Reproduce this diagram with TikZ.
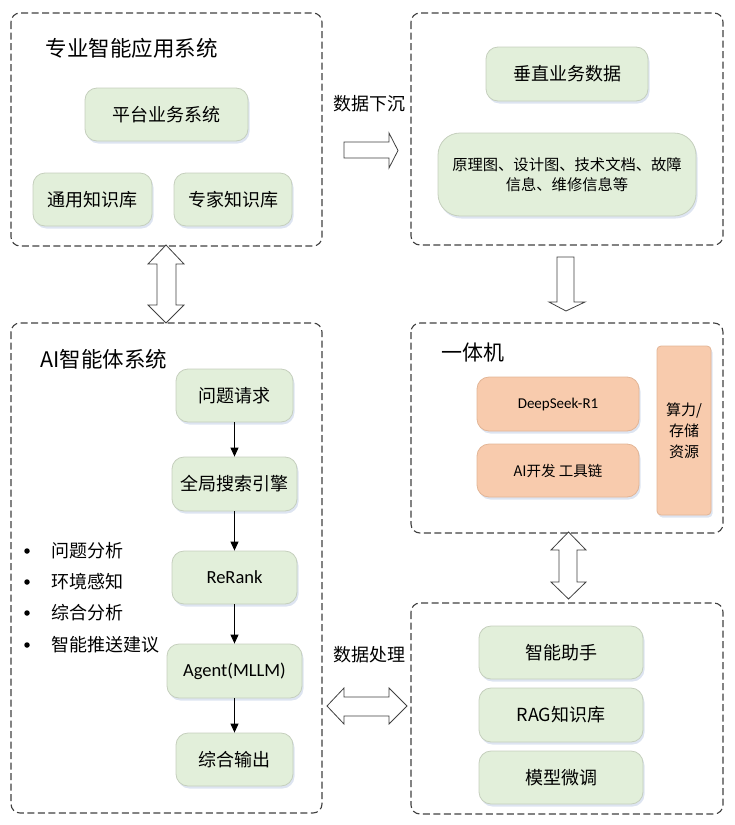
\documentclass[tikz,border=0pt]{standalone}
\usepackage{fontspec}
\setmainfont{Noto Sans CJK SC}
\newfontfamily\latinf{Carlito}
\usetikzlibrary{arrows.meta,shadows}
\definecolor{gfill}{HTML}{E2EFDA}
\definecolor{gdraw}{HTML}{C5CFBD}
\definecolor{ofill}{HTML}{F8CBAD}
\definecolor{odraw}{HTML}{E2B596}
\definecolor{frame}{HTML}{404040}
\definecolor{shad}{HTML}{9DB3D6}
\tikzset{
  frm/.style={draw=frame, line width=1.1pt, dash pattern=on 7pt off 3.5pt, rounded corners=9pt},
  gbox/.style={draw=gdraw, fill=gfill, line width=0.8pt, rounded corners=12pt, align=center,
    font=\fontsize{18}{21}\selectfont,
    drop shadow={shadow xshift=1.5pt, shadow yshift=-2.5pt, fill=shad, opacity=0.35}},
  obox/.style={draw=odraw, fill=ofill, line width=0.8pt, rounded corners=12pt, align=center,
    font=\fontsize{14.5}{20}\selectfont,
    drop shadow={shadow xshift=1.5pt, shadow yshift=-2.5pt, fill=shad, opacity=0.35}},
  ttl/.style={anchor=west, font=\fontsize{21.5}{24}\selectfont},
  lbl/.style={font=\fontsize{18}{21}\selectfont},
  barrow/.style={draw=black!75, fill=white, line width=0.8pt, line join=miter},
  flow/.style={-{Triangle[length=9pt,width=8pt]}, line width=1pt, black},
  dot/.style={circle, fill=black, inner sep=0pt, minimum size=5.5pt},
  btxt/.style={anchor=west, font=\fontsize{18}{21}\selectfont},
}
\begin{document}
\begin{tikzpicture}[x=1pt,y=-1pt]
\useasboundingbox (0,0) rectangle (734,825);
% ---------- frames ----------
\draw[frm] (11,13) rectangle (322,246);
\draw[frm] (411,13) rectangle (723,245);
\draw[frm] (411,323) rectangle (723,533);
\draw[frm] (11,323) rectangle (322,813);
\draw[frm] (411,603) rectangle (723,814);
% ---------- top-left ----------
\node[ttl] (t1) at (42,48) {专业智能应用系统};
\node[gbox, minimum width=163pt, minimum height=53pt] (p1) at (166.5,114.5) {平台业务系统};
\node[gbox, minimum width=119pt, minimum height=53pt] (p2) at (92.5,199.5) {通用知识库};
\node[gbox, minimum width=118pt, minimum height=53pt] (p3) at (233,199.5) {专家知识库};
% ---------- top-right ----------
\node[gbox, minimum width=162pt, minimum height=54pt] (v1) at (567,74) {垂直业务数据};
\node[gbox, minimum width=258pt, minimum height=83pt, rounded corners=22pt,
  font=\fontsize{15.3}{19.5}\selectfont] (v2) at (567,174.5) {原理图、设计图、技术文档、故障\\信息、维修信息等};
\node[lbl] (l1) at (369,104) {数据下沉};
% right block arrow
\draw[barrow] (344,142) -- (389,142) -- (389,133) -- (398,150.5) -- (389,168) -- (389,158) -- (344,158) -- cycle;
% down block arrow
\draw[barrow] (557,257) -- (574,257) -- (574,302) -- (585,302) -- (566,311) -- (549,302) -- (557,302) -- cycle;
% ---------- 一体机 ----------
\node[ttl, font=\fontsize{21}{24}\selectfont] (t2) at (438,353) {一体机};
\node[obox, minimum width=162pt, minimum height=54pt, font=\latinf\fontsize{15}{18}\selectfont] (d1) at (558,404) {DeepSeek-R1};
\node[obox, minimum width=162pt, minimum height=53pt] (d2) at (558,470.5) {AI开发 工具链};
\node[obox, minimum width=54pt, minimum height=169pt, rounded corners=4pt,
  font=\fontsize{15}{21}\selectfont] (d3) at (684,430.5) {算力/\\存储\\资源};
% double vertical arrow right
\draw[barrow] (568.5,532) -- (586,550) -- (577,550) -- (577,582) -- (586,582) -- (568.5,599) -- (551,582) -- (559,582) -- (559,550) -- (551,550) -- cycle;
% ---------- bottom-right ----------
\node[gbox, minimum width=164pt, minimum height=53pt] (b1) at (561,652.5) {智能助手};
\node[gbox, minimum width=164pt, minimum height=54pt] (b2) at (561,715) {RAG知识库};
\node[gbox, minimum width=164pt, minimum height=53pt] (b3) at (561,777.5) {模型微调};
\node[lbl] (l2) at (369,655) {数据处理};
% double horizontal arrow
\draw[barrow] (327,706) -- (344,688) -- (344,697) -- (389,697) -- (389,688) -- (407,706) -- (389,724) -- (389,716) -- (344,716) -- (344,724) -- cycle;
% ---------- AI agent system ----------
\node[ttl] (t3) at (37,359) {AI智能体系统};
\node[gbox, minimum width=117pt, minimum height=53pt] (a1) at (234.5,395.5) {问题请求};
\node[gbox, minimum width=125pt, minimum height=54pt] (a2) at (234.5,484) {全局搜索引擎};
\node[gbox, minimum width=125pt, minimum height=53pt, font=\latinf\fontsize{18.5}{20}\selectfont] (a3) at (234.5,577.5) {ReRank};
\node[gbox, minimum width=135pt, minimum height=54pt, font=\latinf\fontsize{18.5}{20}\selectfont] (a4) at (234.5,671) {Agent(MLLM)};
\node[gbox, minimum width=117pt, minimum height=53pt] (a5) at (234.5,759.5) {综合输出};
\draw[flow] (a1) -- (a2);
\draw[flow] (a2) -- (a3);
\draw[flow] (a3) -- (a4);
\draw[flow] (a4) -- (a5);
% bullets
\node[dot] (k1) at (27,551) {};
\node[dot] (k2) at (27,582) {};
\node[dot] (k3) at (27,613) {};
\node[dot] (k4) at (27,645) {};
\node[btxt] (s1) at (48,551) {问题分析};
\node[btxt] (s2) at (48,582) {环境感知};
\node[btxt] (s3) at (48,613) {综合分析};
\node[btxt] (s4) at (48,645) {智能推送建议};
% double vertical arrow left
\draw[barrow] (166,245) -- (184,264) -- (176,264) -- (176,305) -- (184,305) -- (166,323) -- (148,305) -- (157,305) -- (157,264) -- (148,264) -- cycle;
\end{tikzpicture}
\end{document}
